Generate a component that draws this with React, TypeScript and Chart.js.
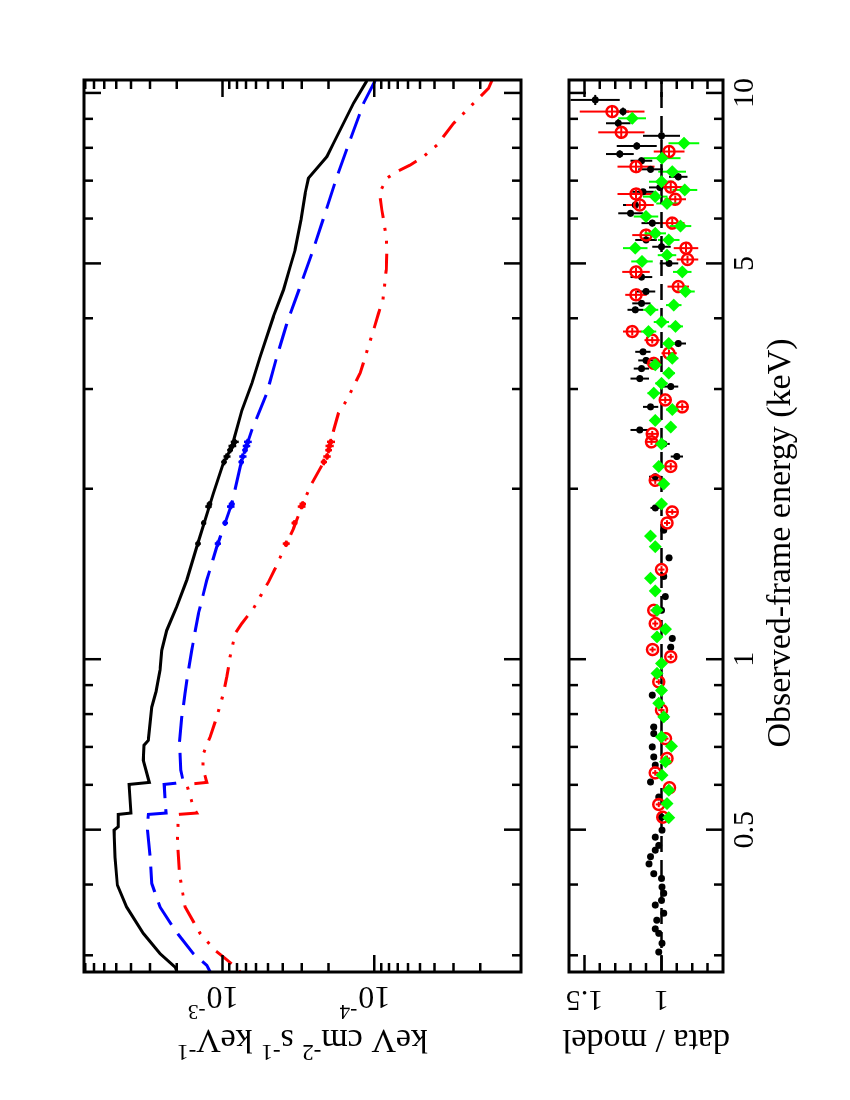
import { useEffect, useRef } from 'react'
import Chart from 'chart.js/auto'

// axis ranges
const energyMin = 0.2803
const energyMax = 10.54
const fluxMin = 1.079e-5
const fluxMax = 8.16e-3
const ratioMin = 0.6
const ratioMax = 1.6

// tick values and labels
const energyMajor = [0.5, 1, 5, 10]
const energyLabels = ['0.5', '1', '5', '10']
const energyMinor = [0.3, 0.4, 0.6, 0.7, 0.8, 0.9, 2, 3, 4, 6, 7, 8, 9]
const fluxMajor = [1e-4, 1e-3]
const fluxExponents = ['-4', '-3']
const fluxMinor = [
  2e-5, 3e-5, 4e-5, 5e-5, 6e-5, 7e-5, 8e-5, 9e-5,
  2e-4, 3e-4, 4e-4, 5e-4, 6e-4, 7e-4, 8e-4, 9e-4,
  2e-3, 3e-3, 4e-3, 5e-3, 6e-3, 7e-3, 8e-3,
]
const ratioMajor = [1, 1.5]
const ratioLabels = ['1', '1.5']
const ratioMinor = [0.7, 0.8, 0.9, 1.1, 1.2, 1.3, 1.4]

// axis titles, [text, superscript?]
const fluxTitle: [string, boolean][] = [
  ['keV cm', false], ['-2', true], [' s', false], ['-1', true], [' keV', false], ['-1', true],
]
const ratioTitle = 'data / model'
const energyTitle = 'Observed-frame energy (keV)'

// model curves: energy (keV) and flux (keV cm^-2 s^-1 keV^-1)
const totalEnergy = [10.51, 9.59, 8.84, 8.15, 7.72, 7.36, 7.07, 6.65, 5.97, 5.28, 4.93, 4.49, 4.03, 3.42, 3.07, 2.75, 2.37, 2.22, 1.963, 1.579, 1.379, 1.237, 1.125, 1.037, 0.956, 0.876, 0.823, 0.719, 0.705, 0.663, 0.606, 0.601, 0.535, 0.532, 0.506, 0.499, 0.447, 0.399, 0.365, 0.328, 0.302, 0.286, 0.2803]
const totalFlux = [1.117e-4, 1.369e-4, 1.593e-4, 1.854e-4, 2.05e-4, 2.385e-4, 2.71e-4, 2.85e-4, 3.04e-4, 3.32e-4, 3.58e-4, 3.96e-4, 4.61e-4, 5.64e-4, 6.4e-4, 7.45e-4, 8.67e-4, 9.85e-4, 1.146e-3, 1.475e-3, 1.717e-3, 2.0e-3, 2.325e-3, 2.51e-3, 2.575e-3, 2.735e-3, 2.92e-3, 3.075e-3, 3.28e-3, 3.32e-3, 3.03e-3, 4.12e-3, 4.0e-3, 4.85e-3, 4.85e-3, 5.17e-3, 5.1e-3, 4.92e-3, 4.27e-3, 3.32e-3, 2.575e-3, 2.05e-3, 1.99e-3]

const primaryEnergy = [10.51, 9.59, 8.26, 7.11, 6.13, 5.21, 4.55, 3.92, 3.42, 2.95, 2.54, 2.25, 1.884, 1.579, 1.379, 1.204, 1.037, 0.956, 0.87, 0.791, 0.71, 0.637, 0.606, 0.601, 0.535, 0.532, 0.499, 0.447, 0.4016, 0.365, 0.332, 0.302, 0.288, 0.2805]
const primaryFlux = [9.85e-5, 1.176e-4, 1.439e-4, 1.762e-4, 2.104e-4, 2.574e-4, 3.074e-4, 3.76e-4, 4.38e-4, 5.1e-4, 6.4e-4, 7.45e-4, 8.67e-4, 1.089e-3, 1.267e-3, 1.439e-3, 1.591e-3, 1.675e-3, 1.761e-3, 1.852e-3, 1.92e-3, 1.88e-3, 1.807e-3, 2.42e-3, 2.35e-3, 3.075e-3, 3.12e-3, 2.996e-3, 2.92e-3, 2.575e-3, 2.05e-3, 1.553e-3, 1.267e-3, 1.205e-3]

const reflectedEnergy = [10.54, 10.19, 9.72, 9.27, 8.84, 8.09, 7.72, 7.46, 7.26, 7.07, 6.65, 6.21, 5.57, 5.21, 4.87, 4.31, 4.08, 3.81, 3.42, 3.2, 2.87, 2.72, 2.56, 2.28, 2.044, 1.896, 1.702, 1.558, 1.446, 1.369, 1.229, 1.156, 1.11, 1.009, 0.93, 0.87, 0.791, 0.729, 0.681, 0.645, 0.606, 0.601, 0.548, 0.535, 0.532, 0.479, 0.418, 0.365, 0.328, 0.306, 0.298, 0.288, 0.2805]
const reflectedFlux = [1.67e-5, 1.764e-5, 2.104e-5, 2.51e-5, 3.0e-5, 3.86e-5, 4.73e-5, 5.79e-5, 7.09e-5, 8.25e-5, 9.23e-5, 8.9e-5, 8.33e-5, 8.25e-5, 8.33e-5, 8.76e-5, 9.37e-5, 1.011e-4, 1.146e-4, 1.237e-4, 1.514e-4, 1.719e-4, 1.835e-4, 2.05e-4, 2.574e-4, 2.924e-4, 3.4e-4, 3.96e-4, 4.49e-4, 4.97e-4, 6.25e-4, 7.45e-4, 8.25e-4, 8.9e-4, 9.35e-4, 9.85e-4, 1.089e-3, 1.205e-3, 1.334e-3, 1.346e-3, 1.267e-3, 1.717e-3, 1.553e-3, 1.475e-3, 1.95e-3, 1.98e-3, 1.92e-3, 1.761e-3, 1.403e-3, 1.117e-3, 9.85e-4, 8.46e-4, 7.64e-4]

// unfolded data points on the models: [energy, dE, flux, dF]
type Row = [number, number, number, number]
const totalData: Row[] = [
  [2.42, 0.03, 8.3e-4, 0.5e-4], [2.38, 0.03, 8.6e-4, 0.5e-4], [2.34, 0.03, 8.9e-4, 0.4e-4], [2.28, 0.03, 9.35e-4, 0.5e-4],
  [2.23, 0.03, 9.77e-4, 0.4e-4], [1.88, 0.02, 1.216e-3, 0.5e-4], [1.86, 0.02, 1.236e-3, 0.6e-4],
  [1.74, 0.02, 1.33e-3, 0.5e-4], [1.6, 0.02, 1.45e-3, 0.6e-4],
]
const primaryData: Row[] = [
  [2.42, 0.03, 6.8e-4, 0.4e-4], [2.38, 0.03, 6.95e-4, 0.4e-4], [2.34, 0.03, 7.11e-4, 0.3e-4], [2.28, 0.03, 7.35e-4, 0.4e-4],
  [2.23, 0.03, 7.52e-4, 0.3e-4], [1.88, 0.02, 8.69e-4, 0.4e-4], [1.86, 0.02, 8.83e-4, 0.5e-4],
  [1.74, 0.02, 9.6e-4, 0.4e-4], [1.6, 0.02, 1.072e-3, 0.5e-4],
]
const reflectedData: Row[] = [
  [2.42, 0.03, 1.93e-4, 0.12e-4], [2.38, 0.03, 1.97e-4, 0.12e-4], [2.34, 0.03, 2.0e-4, 0.1e-4], [2.28, 0.03, 2.05e-4, 0.12e-4],
  [2.23, 0.03, 2.15e-4, 0.1e-4], [1.88, 0.02, 2.96e-4, 0.15e-4], [1.86, 0.02, 3.01e-4, 0.18e-4],
  [1.74, 0.02, 3.35e-4, 0.15e-4], [1.6, 0.02, 3.8e-4, 0.2e-4],
]

// data / model ratios: [energy, dE, ratio, dRatio]
const blackRatio: Row[] = [
  [9.72, 0.2, 1.43, 0.16], [9.27, 0.15, 1.25, 0.04], [8.84, 0.15, 1.28, 0.08], [8.4, 0.15, 1.0, 0.12],
  [8.06, 0.12, 1.16, 0.13], [7.8, 0.12, 1.27, 0.09], [7.59, 0.1, 1.13, 0.07], [7.33, 0.1, 1.07, 0.08],
  [7.11, 0.1, 0.89, 0.06], [6.81, 0.1, 1.01, 0.07], [6.69, 0.08, 1.12, 0.07], [6.34, 0.08, 1.17, 0.08],
  [6.13, 0.08, 1.2, 0.08], [5.89, 0.08, 1.06, 0.07], [5.5, 0.07, 1.1, 0.07], [5.35, 0.07, 1.0, 0.06],
  [5.0, 0.06, 0.95, 0.06], [4.73, 0.06, 1.13, 0.07], [4.46, 0.06, 1.1, 0.06], [4.25, 0.05, 1.13, 0.06],
  [4.14, 0.05, 1.17, 0.05], [3.61, 0.04, 0.89, 0.05], [3.49, 0.04, 1.12, 0.05], [3.37, 0.04, 1.1, 0.05],
  [3.26, 0.04, 1.13, 0.05], [3.13, 0.04, 1.14, 0.06], [3.03, 0.04, 0.94, 0.05], [2.79, 0.03, 1.07, 0.05],
  [2.54, 0.03, 1.14, 0.06], [2.4, 0.03, 0.985, 0.04], [2.28, 0.03, 0.9, 0.04], [2.1, 0.02, 1.04, 0.04],
  [1.85, 0.02, 1.04, 0.03], [1.69, 0.02, 0.985, 0.02], [1.51, 0.015, 0.95, 0.02], [1.4, 0.015, 0.985, 0.02],
  [1.29, 0.012, 0.975, 0.02], [1.22, 0.012, 1.0, 0.02], [1.088, 0.01, 0.93, 0.02], [1.05, 0.01, 0.94, 0.02],
  [0.864, 0.008, 1.06, 0.02], [0.791, 0.008, 0.975, 0.02], [0.759, 0.006, 1.05, 0.02], [0.739, 0.006, 1.05, 0.015],
  [0.7, 0.006, 1.06, 0.015], [0.672, 0.005, 1.05, 0.015], [0.65, 0.005, 1.04, 0.015], [0.607, 0.005, 1.07, 0.015],
  [0.571, 0.004, 1.017, 0.015], [0.526, 0.004, 1.0, 0.015], [0.499, 0.004, 0.996, 0.012], [0.485, 0.003, 1.04, 0.012],
  [0.469, 0.003, 1.017, 0.012], [0.46, 0.003, 1.04, 0.012], [0.448, 0.003, 1.07, 0.012], [0.435, 0.003, 1.08, 0.012],
  [0.418, 0.003, 1.05, 0.012], [0.41, 0.003, 1.0, 0.012], [0.396, 0.003, 0.996, 0.012], [0.386, 0.003, 0.985, 0.012],
  [0.375, 0.003, 1.0, 0.012], [0.368, 0.003, 1.04, 0.012], [0.356, 0.003, 0.985, 0.012], [0.346, 0.003, 1.03, 0.012],
  [0.334, 0.003, 1.04, 0.012], [0.328, 0.003, 1.017, 0.012], [0.315, 0.003, 0.996, 0.012], [0.304, 0.003, 1.017, 0.012],
]
const redRatio: Row[] = [
  [9.27, 0.2, 1.32, 0.21], [8.52, 0.18, 1.26, 0.15], [7.88, 0.15, 0.95, 0.1], [7.41, 0.14, 1.165, 0.12],
  [6.82, 0.12, 0.94, 0.08], [6.63, 0.12, 1.165, 0.12], [6.49, 0.1, 0.91, 0.07], [6.34, 0.1, 1.14, 0.09],
  [5.89, 0.1, 0.93, 0.08], [5.61, 0.09, 1.1, 0.09], [5.32, 0.09, 0.84, 0.08], [5.08, 0.08, 0.83, 0.07],
  [4.83, 0.08, 1.165, 0.09], [4.55, 0.07, 0.89, 0.07], [4.4, 0.07, 1.165, 0.07], [3.79, 0.06, 1.19, 0.06],
  [3.66, 0.05, 1.06, 0.05], [3.47, 0.05, 0.95, 0.05], [3.33, 0.05, 1.05, 0.05], [2.87, 0.04, 0.975, 0.04],
  [2.79, 0.04, 0.865, 0.04], [2.5, 0.03, 1.06, 0.04], [2.42, 0.03, 1.065, 0.04], [2.19, 0.03, 0.94, 0.03],
  [2.07, 0.03, 1.04, 0.03], [1.82, 0.02, 0.93, 0.03], [1.74, 0.02, 0.963, 0.02], [1.44, 0.02, 1.0, 0.02],
  [1.22, 0.015, 1.05, 0.02], [1.156, 0.015, 1.04, 0.02], [1.04, 0.012, 1.057, 0.02], [1.01, 0.012, 0.94, 0.02],
  [0.912, 0.01, 1.017, 0.02], [0.813, 0.01, 1.0, 0.02], [0.724, 0.008, 0.974, 0.02], [0.668, 0.008, 0.963, 0.02],
  [0.63, 0.007, 1.04, 0.02], [0.593, 0.007, 0.948, 0.02], [0.554, 0.006, 1.017, 0.02], [0.526, 0.006, 0.991, 0.02],
]
const greenRatio: Row[] = [
  [9.02, 0.2, 1.19, 0.09], [8.15, 0.18, 0.854, 0.1], [7.67, 0.15, 0.996, 0.12], [7.26, 0.14, 0.93, 0.09],
  [6.97, 0.12, 1.0, 0.08], [6.74, 0.12, 0.848, 0.08], [6.56, 0.1, 1.04, 0.08], [6.38, 0.1, 0.963, 0.07],
  [6.05, 0.1, 1.1, 0.08], [5.82, 0.09, 0.876, 0.07], [5.65, 0.09, 1.04, 0.07], [5.5, 0.09, 0.952, 0.07],
  [5.32, 0.08, 1.17, 0.08], [5.17, 0.08, 0.963, 0.06], [5.04, 0.08, 1.126, 0.07], [4.83, 0.07, 0.865, 0.06],
  [4.46, 0.07, 0.843, 0.06], [4.22, 0.06, 0.92, 0.05], [4.14, 0.06, 1.07, 0.05], [3.94, 0.05, 1.0, 0.05],
  [3.87, 0.05, 0.909, 0.05], [3.79, 0.05, 1.083, 0.05], [3.61, 0.05, 0.952, 0.04], [3.4, 0.04, 0.93, 0.04],
  [3.31, 0.04, 1.04, 0.04], [3.2, 0.04, 0.952, 0.04], [3.07, 0.04, 1.0, 0.04], [2.95, 0.04, 1.05, 0.04],
  [2.76, 0.03, 0.93, 0.04], [2.64, 0.03, 1.04, 0.03], [2.57, 0.03, 0.94, 0.03], [2.4, 0.03, 1.0, 0.03],
  [2.19, 0.03, 1.017, 0.03], [2.04, 0.02, 0.985, 0.03], [1.88, 0.02, 1.0, 0.02], [1.65, 0.02, 1.07, 0.02],
  [1.58, 0.02, 1.04, 0.02], [1.39, 0.015, 1.07, 0.02], [1.32, 0.015, 1.04, 0.02], [1.22, 0.015, 1.028, 0.02],
  [1.13, 0.012, 0.974, 0.02], [1.095, 0.012, 1.028, 0.02], [0.983, 0.01, 1.0, 0.02], [0.944, 0.01, 1.028, 0.02],
  [0.881, 0.01, 1.0, 0.02], [0.836, 0.01, 1.017, 0.02], [0.791, 0.008, 0.985, 0.02], [0.729, 0.008, 1.0, 0.02],
  [0.702, 0.008, 0.935, 0.02], [0.659, 0.007, 0.974, 0.02], [0.624, 0.007, 0.996, 0.02], [0.587, 0.006, 0.952, 0.02],
  [0.556, 0.006, 0.963, 0.02], [0.525, 0.006, 0.952, 0.02],
]

const SERIF = '"Liberation Serif", "DejaVu Serif", serif'

const toPoints = (rows: Row[]) => rows.map(([x, xErr, y, yErr]) => ({ x, y, xErr, yErr }))
const toLine = (e: number[], f: number[]) => e.map((x, i) => ({ x, y: f[i] }))

// error bars under the markers, clipped to the frame
const errorBarPlugin = {
  id: 'errorBars',
  beforeDatasetsDraw(chart: any) {
    const { ctx, chartArea: a, scales } = chart
    const xs = scales.x
    const ys = scales.y
    ctx.save()
    ctx.beginPath()
    ctx.rect(a.left, a.top, a.right - a.left, a.bottom - a.top)
    ctx.clip()
    const sets = [...chart.data.datasets].reverse()
    sets.forEach((ds: any) => {
      if (!ds.errorBars) return
      ctx.strokeStyle = ds.borderColor
      ctx.lineWidth = ds.errorWidth || 2
      ctx.beginPath()
      ds.data.forEach((p: any) => {
        const px = xs.getPixelForValue(p.x)
        const py = ys.getPixelForValue(p.y)
        ctx.moveTo(xs.getPixelForValue(p.x - p.xErr), py)
        ctx.lineTo(xs.getPixelForValue(p.x + p.xErr), py)
        ctx.moveTo(px, ys.getPixelForValue(p.y - p.yErr))
        ctx.lineTo(px, ys.getPixelForValue(p.y + p.yErr))
      })
      ctx.stroke()
    })
    ctx.restore()
  },
}

// box frame with inward ticks on all four sides
function framePlugin(xMajor: number[], xMinor: number[], yMajor: number[], yMinor: number[]) {
  return {
    id: 'frame',
    afterDatasetsDraw(chart: any) {
      const { ctx, chartArea: a, scales } = chart
      ctx.save()
      ctx.strokeStyle = '#000'
      ctx.lineWidth = 2.5
      ctx.beginPath()
      const xTick = (v: number, len: number) => {
        const p = scales.x.getPixelForValue(v)
        ctx.moveTo(p, a.top); ctx.lineTo(p, a.top + len)
        ctx.moveTo(p, a.bottom); ctx.lineTo(p, a.bottom - len)
      }
      const yTick = (v: number, len: number) => {
        const p = scales.y.getPixelForValue(v)
        ctx.moveTo(a.left, p); ctx.lineTo(a.left + len, p)
        ctx.moveTo(a.right, p); ctx.lineTo(a.right - len, p)
      }
      xMajor.forEach((v) => xTick(v, 17))
      xMinor.forEach((v) => xTick(v, 9))
      yMajor.forEach((v) => yTick(v, 17))
      yMinor.forEach((v) => yTick(v, 9))
      ctx.stroke()
      ctx.lineWidth = 3
      ctx.strokeRect(a.left, a.top, a.right - a.left, a.bottom - a.top)
      ctx.restore()
    },
  }
}

function drawRich(ctx: CanvasRenderingContext2D, parts: [string, boolean][], size: number, supSize: number, raise: number) {
  const widths = parts.map(([t, sup]) => {
    ctx.font = `${sup ? supSize : size}px ${SERIF}`
    return ctx.measureText(t).width
  })
  let x = -widths.reduce((s, w) => s + w, 0) / 2
  parts.forEach(([t, sup], i) => {
    ctx.font = `${sup ? supSize : size}px ${SERIF}`
    ctx.fillText(t, x, sup ? -raise : 0)
    x += widths[i]
  })
}

const fluxTextPlugin = {
  id: 'fluxText',
  afterDraw(chart: any) {
    const { ctx, chartArea: a, scales } = chart
    ctx.save()
    ctx.fillStyle = '#000'
    ctx.textBaseline = 'alphabetic'
    fluxMajor.forEach((v, i) => {
      const p = scales.y.getPixelForValue(v)
      ctx.save()
      ctx.translate(a.left - 15, p)
      ctx.rotate(-Math.PI / 2)
      ctx.font = `32px ${SERIF}`
      ctx.textAlign = 'center'
      ctx.fillText('10', 0, 0)
      const w = ctx.measureText('10').width
      ctx.font = `21px ${SERIF}`
      ctx.textAlign = 'left'
      ctx.fillText(fluxExponents[i], w / 2 + 1, -18)
      ctx.restore()
    })
    ctx.save()
    ctx.translate(a.left - 58, (a.top + a.bottom) / 2)
    ctx.rotate(-Math.PI / 2)
    ctx.textAlign = 'left'
    drawRich(ctx, fluxTitle, 34, 23, 15)
    ctx.restore()
    ctx.restore()
  },
}

const ratioTextPlugin = {
  id: 'ratioText',
  afterDraw(chart: any) {
    const { ctx, chartArea: a, scales } = chart
    ctx.save()
    ctx.fillStyle = '#000'
    ctx.textBaseline = 'alphabetic'
    ctx.textAlign = 'center'
    ctx.font = `30px ${SERIF}`
    energyMajor.forEach((v, i) => {
      ctx.fillText(energyLabels[i], scales.x.getPixelForValue(v), a.bottom + 30)
    })
    ctx.font = `34px ${SERIF}`
    ctx.fillText(energyTitle, (a.left + a.right) / 2 - 17, a.bottom + 67)
    ratioMajor.forEach((v, i) => {
      ctx.save()
      ctx.translate(a.left - 19, scales.y.getPixelForValue(v))
      ctx.rotate(-Math.PI / 2)
      ctx.font = `30px ${SERIF}`
      ctx.fillText(ratioLabels[i], 0, 0)
      ctx.restore()
    })
    ctx.save()
    ctx.translate(a.left - 58, (a.top + a.bottom) / 2)
    ctx.rotate(-Math.PI / 2)
    ctx.font = `34px ${SERIF}`
    ctx.fillText(ratioTitle, 0, 0)
    ctx.restore()
    ctx.restore()
  },
}

const modelLine = (data: { x: number; y: number }[], color: string, dash: number[]) => ({
  data,
  showLine: true,
  borderColor: color,
  borderWidth: 3,
  borderDash: dash,
  pointRadius: 0,
  tension: 0,
})

const fluxPoints = (rows: Row[], color: string) => ({
  data: toPoints(rows),
  errorBars: true,
  errorWidth: 2.5,
  borderColor: color,
  backgroundColor: color,
  pointRadius: 2.5,
  pointBorderWidth: 0,
  pointStyle: 'circle',
})

export default function App() {
  const fluxRef = useRef<HTMLCanvasElement>(null)
  const ratioRef = useRef<HTMLCanvasElement>(null)

  useEffect(() => {
    if (!fluxRef.current || !ratioRef.current) return

    const flux = new Chart(fluxRef.current, {
      type: 'scatter',
      data: {
        datasets: [
          fluxPoints(totalData, '#000000'),
          fluxPoints(primaryData, '#0000ff'),
          fluxPoints(reflectedData, '#ff0000'),
          modelLine(toLine(totalEnergy, totalFlux), '#000000', []),
          modelLine(toLine(primaryEnergy, primaryFlux), '#0000ff', [26, 11]),
          modelLine(toLine(reflectedEnergy, reflectedFlux), '#ff0000', [20, 10, 3, 10, 3, 10]),
        ] as any,
      },
      options: {
        animation: false,
        responsive: true,
        maintainAspectRatio: false,
        layout: { padding: { left: 128, right: 80, top: 84, bottom: 24 } },
        plugins: { legend: { display: false }, tooltip: { enabled: false } },
        scales: {
          x: { type: 'logarithmic', min: energyMin, max: energyMax, display: false },
          y: { type: 'logarithmic', min: fluxMin, max: fluxMax, display: false },
        },
      },
      plugins: [errorBarPlugin, framePlugin(energyMajor, energyMinor, fluxMajor, fluxMinor), fluxTextPlugin],
    })

    const ratio = new Chart(ratioRef.current, {
      type: 'scatter',
      data: {
        datasets: [
          {
            data: toPoints(greenRatio),
            errorBars: true,
            borderColor: '#00ff00',
            backgroundColor: '#00ff00',
            pointStyle: 'rectRot',
            pointRadius: 6.5,
            pointBorderWidth: 0,
          },
          {
            data: toPoints(redRatio),
            errorBars: true,
            borderColor: '#ff0000',
            backgroundColor: 'rgba(255,255,255,0)',
            pointStyle: 'circle',
            pointRadius: 5.5,
            pointBorderWidth: 2.5,
          },
          {
            data: toPoints(blackRatio),
            errorBars: true,
            borderColor: '#000000',
            backgroundColor: '#000000',
            pointStyle: 'circle',
            pointRadius: 3.5,
            pointBorderWidth: 0,
          },
          {
            data: [{ x: energyMin, y: 1 }, { x: energyMax, y: 1 }],
            showLine: true,
            borderColor: '#000000',
            borderWidth: 2.5,
            borderDash: [16, 8],
            pointRadius: 0,
          },
        ] as any,
      },
      options: {
        animation: false,
        responsive: true,
        maintainAspectRatio: false,
        layout: { padding: { left: 128, right: 80, top: 24, bottom: 127 } },
        plugins: { legend: { display: false }, tooltip: { enabled: false } },
        scales: {
          x: { type: 'logarithmic', min: energyMin, max: energyMax, display: false },
          y: { type: 'linear', min: ratioMin, max: ratioMax, display: false },
        },
      },
      plugins: [errorBarPlugin, framePlugin(energyMajor, energyMinor, ratioMajor, ratioMinor), ratioTextPlugin],
    })

    return () => {
      flux.destroy()
      ratio.destroy()
    }
  }, [])

  // the figure is laid out landscape and turned a quarter turn, like the printed page
  return (
    <div style={{ position: 'absolute', left: 0, top: 0, width: 850, height: 1100, overflow: 'hidden', background: '#fff' }}>
      <div
        style={{
          position: 'absolute',
          left: 0,
          top: 0,
          width: 1100,
          height: 850,
          transformOrigin: '0 0',
          transform: 'translate(0px, 1100px) rotate(-90deg)',
        }}
      >
        <div style={{ position: 'absolute', left: 0, top: 0, width: 1100, height: 545 }}>
          <canvas ref={fluxRef} />
        </div>
        <div style={{ position: 'absolute', left: 0, top: 545, width: 1100, height: 305 }}>
          <canvas ref={ratioRef} />
        </div>
      </div>
    </div>
  )
}
